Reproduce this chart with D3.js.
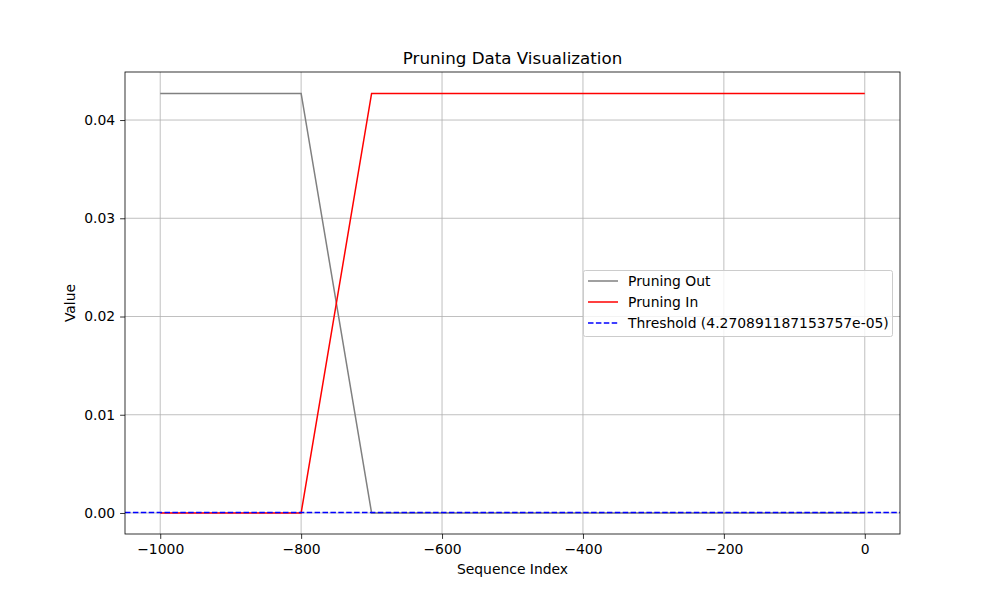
<!DOCTYPE html>
<html><head><meta charset="utf-8">
<script src="https://cdn.jsdelivr.net/npm/d3@7"></script>
<style>body{margin:0;background:#fff}text{font-family:"DejaVu Sans",sans-serif}</style>
</head><body><svg id="c" width="1000" height="600"></svg>
<script>
const peak = 0.04270891187153757;
const threshold = 4.270891187153757e-05;
const thresholdLabel = "4.270891187153757e-05";
const outX = [-1000, -800, -700, 0];
const outY = [peak, peak, 0, 0];
const inX = [-1000, -800, -700, 0];
const inY = [0, 0, peak, peak];
const xTicks = [-1000, -800, -600, -400, -200, 0];
const yTicks = [0, 0.01, 0.02, 0.03, 0.04];

const svg = d3.select("#c");
const L=125,R=900,T=72,B=534;
const x = d3.scaleLinear().domain([-1050,50]).range([L,R]);
const y = d3.scaleLinear().domain([-0.00214,0.04489]).range([B,T]);

const g = svg.append("g");
xTicks.forEach(t=>g.append("line").attr("x1",x(t)).attr("x2",x(t)).attr("y1",T).attr("y2",B).attr("stroke","#b0b0b0").attr("stroke-width",0.8));
yTicks.forEach(t=>g.append("line").attr("y1",y(t)).attr("y2",y(t)).attr("x1",L).attr("x2",R).attr("stroke","#b0b0b0").attr("stroke-width",0.8));

const xa = svg.append("g").attr("transform",`translate(0,${B})`).call(d3.axisBottom(x).tickValues(xTicks).tickSize(4.9).tickPadding(4.9).tickFormat(d=>d<0?"\u2212"+Math.abs(d):d));
const ya = svg.append("g").attr("transform",`translate(${L},0)`).call(d3.axisLeft(y).tickValues(yTicks).tickSize(4.9).tickPadding(4.9).tickFormat(d3.format(".2f")));
[xa,ya].forEach(a=>{a.select(".domain").remove();a.selectAll("text").attr("font-size",13.9).attr("fill","#000");a.selectAll("line").attr("stroke","#000").attr("stroke-width",0.8);});

const line = d3.line().x(d=>x(d[0])).y(d=>y(d[1]));
svg.append("path").attr("d",line(outX.map((v,i)=>[v,outY[i]]))).attr("fill","none").attr("stroke","gray").attr("stroke-width",1.5);
svg.append("path").attr("d",line(inX.map((v,i)=>[v,inY[i]]))).attr("fill","none").attr("stroke","red").attr("stroke-width",1.5);
svg.append("line").attr("x1",L).attr("x2",R).attr("y1",y(threshold)).attr("y2",y(threshold)).attr("stroke","blue").attr("stroke-width",1.5).attr("stroke-dasharray","5.5,2.4");

svg.append("rect").attr("x",L).attr("y",T).attr("width",R-L).attr("height",B-T).attr("fill","none").attr("stroke","#000").attr("stroke-width",0.8);

svg.append("text").attr("x",(L+R)/2).attr("y",64).attr("text-anchor","middle").attr("font-size",16.7).text("Pruning Data Visualization");
svg.append("text").attr("x",(L+R)/2).attr("y",574).attr("text-anchor","middle").attr("font-size",13.9).text("Sequence Index");
svg.append("text").attr("transform",`translate(75,${(T+B)/2}) rotate(-90)`).attr("text-anchor","middle").attr("font-size",13.9).text("Value");

const leg = svg.append("g");
leg.append("rect").attr("x",583.5).attr("y",270.5).attr("width",309).attr("height",66).attr("rx",2).attr("fill","#fff").attr("fill-opacity",0.8).attr("stroke","#ccc");
const items=[["Pruning Out","gray",null],["Pruning In","red",null],["Threshold ("+thresholdLabel+")","blue","5.5,2.4"]];
items.forEach((it,i)=>{const yy=281+i*21;
 leg.append("line").attr("x1",588).attr("x2",618).attr("y1",yy).attr("y2",yy).attr("stroke",it[1]).attr("stroke-width",1.5).attr("stroke-dasharray",it[2]);
 leg.append("text").attr("x",628).attr("y",yy+5).attr("font-size",13.9).text(it[0]);});
</script></body></html>
